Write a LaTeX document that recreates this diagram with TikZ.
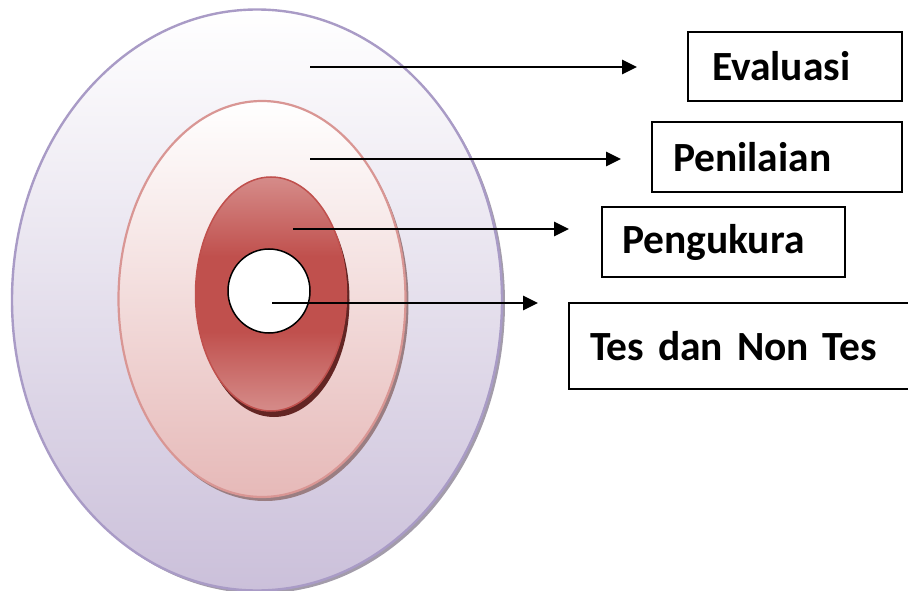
\documentclass[tikz,border=0pt]{standalone}
\usepackage{fontspec}
\setmainfont{Carlito}
\usetikzlibrary{arrows.meta,shapes.geometric}
\definecolor{lavline}{HTML}{A99BC6}
\definecolor{lavbot}{HTML}{CBC0DA}
\definecolor{lavshadow}{HTML}{A39CAA}
\definecolor{pinkline}{HTML}{D99694}
\definecolor{pinkbot}{HTML}{E6B9B8}
\definecolor{pinkshadow}{HTML}{9A7E82}
\definecolor{redmid}{HTML}{C0504D}
\definecolor{redlight}{HTML}{D99694}
\definecolor{redshadow}{HTML}{632523}
\pgfdeclareverticalshading{redband}{100bp}{color(0bp)=(redlight); color(22bp)=(redlight); color(42bp)=(redmid); color(58bp)=(redmid); color(78bp)=(redlight); color(100bp)=(redlight)}
\tikzset{
  ring/.style={ellipse, inner sep=0pt},
  lbox/.style={draw=black, line width=1.6pt, inner xsep=0pt, inner ysep=0pt,
    align=left, font=\fontsize{41.5}{48}\selectfont\bfseries},
  pointer/.style={line width=2.8pt, -{Triangle[length=15pt,width=14pt]}},
}
\begin{document}
\begin{tikzpicture}[x=1pt,y=-1pt]
\useasboundingbox (0,0) rectangle (908,591);
% outer ellipse
\node[ring, fill=lavshadow, minimum width=490pt, minimum height=581pt] at (260,303) {};
\node[ring, draw=lavline, line width=2.4pt, top color=white, bottom color=lavbot,
      minimum width=490pt, minimum height=581pt] (outer) at (257,300) {};
% middle ellipse
\node[ring, fill=pinkshadow, minimum width=287pt, minimum height=396pt] at (265,303) {};
\node[ring, draw=pinkline, line width=2.2pt, top color=white, bottom color=pinkbot,
      minimum width=287pt, minimum height=396pt] (middle) at (262,299) {};
% inner red ellipse
\node[ring, fill=redshadow, minimum width=151pt, minimum height=234pt] at (274,300) {};
\node[ring, draw=redmid, line width=1.5pt, shading=redband,
      minimum width=151pt, minimum height=234pt] (inner) at (271,294) {};
% white core
\node[ring, draw=black, line width=1.5pt, fill=white, minimum width=82pt, minimum height=84pt] (core) at (269,291) {};
% boxes
\node[lbox, minimum width=214pt, minimum height=69pt, text width=214pt] (eva) at (795,66.5) {\hspace*{24pt}Evaluasi};
\node[lbox, minimum width=250pt, minimum height=70pt, text width=250pt] (pen) at (777,157) {\hspace*{21pt}Penilaian};
\node[lbox, minimum width=243pt, minimum height=70pt, text width=243pt] (peng) at (723.5,242) {\hspace*{20pt}Pengukura};
\node[lbox, minimum width=343pt, minimum height=86pt, text width=343pt] (tes) at (740.5,346) {\hspace*{21pt}Tes dan Non Tes\\[4pt]};
% connector ends
\coordinate (s1) at (310,67);  \coordinate (e1) at (637,67);
\coordinate (s2) at (310,159); \coordinate (e2) at (621,159);
\coordinate (s3) at (293,229); \coordinate (e3) at (569,229);
\coordinate (s4) at (272,303); \coordinate (e4) at (538,303);
\draw[pointer] (s1) -- (e1);
\draw[pointer] (s2) -- (e2);
\draw[pointer] (s3) -- (e3);
\draw[pointer] (s4) -- (e4);
\end{tikzpicture}
\end{document}
